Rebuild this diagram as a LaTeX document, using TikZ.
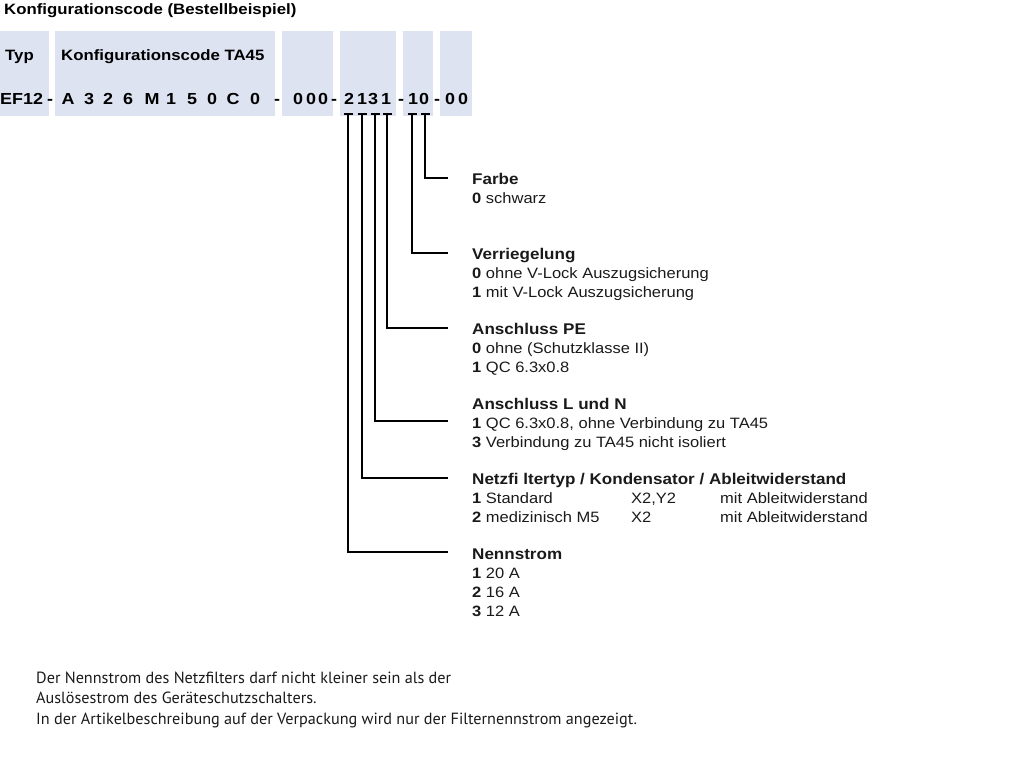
\documentclass[tikz,border=0pt]{standalone}
\usepackage{fontspec}
\setmainfont{Liberation Sans}
\newfontfamily\widefont{Liberation Sans}[FakeStretch=1.1]
\newfontfamily\widerfont{Liberation Sans}[FakeStretch=1.12]
\newfontfamily\notefont{PT Sans}
\definecolor{boxblue}{HTML}{DEE3F2}
\definecolor{ink}{HTML}{1A1A1A}
\begin{document}
\begin{tikzpicture}[x=1pt,y=-1pt,
  codebox/.style={fill=boxblue,draw=none},
  codechar/.style={anchor=base,inner sep=0pt,font=\widerfont\fontsize{16}{19}\selectfont\bfseries},
  hdr/.style={anchor=base west,inner sep=0pt,font=\widerfont\fontsize{15}{18}\selectfont\bfseries},
  ttl/.style={anchor=base west,inner sep=0pt,font=\widefont\fontsize{15.5}{19}\selectfont\bfseries,text=ink},
  itm/.style={anchor=base west,inner sep=0pt,font=\widefont\fontsize{15}{19}\selectfont,text=ink},
  note/.style={anchor=base west,inner sep=0pt,font=\notefont\fontsize{16.2}{20}\selectfont,text=ink},
  conn/.style={line width=1.1pt,draw=black},
  tick/.style={line width=1.1pt,draw=black}
]
\useasboundingbox (0,0) rectangle (1031,768);
% boxes
\fill[codebox] (0,31) rectangle (49,116);
\fill[codebox] (55,31) rectangle (275,116);
\fill[codebox] (282,31) rectangle (333,116);
\fill[codebox] (340,31) rectangle (396,116);
\fill[codebox] (403,31) rectangle (433,116);
\fill[codebox] (440,31) rectangle (472,116);
% headings
\node[hdr] (title) at (4,15) {Konfigurationscode (Bestellbeispiel)};
\node[hdr] (typ) at (5,60) {Typ};
\node[hdr] (kc) at (61,60) {Konfigurationscode TA45};
% code row
\node[codechar,anchor=base west] (ef) at (0,104) {EF12};
\foreach \c/\x/\n in {-/50/d1,A/68/a,3/89/b,2/108/c,6/128/e,M/152/f,1/171/g,5/192/h,0/212/i,C/233/j,0/255/k,-/277/d2,0/298/z1,0/311/z2,0/323/z3,-/334/d3,2/349/c1,1/362/c2,3/373/c3,1/386/c4,-/401/d4,1/413/c5,0/424/c6,-/437/d5,0/450/z4,0/463/z5}
  \node[codechar] (\n) at (\x,104) {\c};
% tick tops
\coordinate (tN) at (348,114);
\coordinate (tK) at (362,114);
\coordinate (tL) at (375,114);
\coordinate (tP) at (387,114);
\coordinate (tV) at (412,114);
\coordinate (tF) at (425,114);
\foreach \t in {tN,tK,tL,tP,tV,tF}
  \draw[tick] ([xshift=-4.5pt]\t) -- ([xshift=4.5pt]\t);
% connector ends
\coordinate (eF) at (448,178);
\coordinate (eV) at (448,253);
\coordinate (eP) at (448,328);
\coordinate (eL) at (448,421);
\coordinate (eK) at (448,478);
\coordinate (eN) at (448,552);
\draw[conn] (tF) |- (eF);
\draw[conn] (tV) |- (eV);
\draw[conn] (tP) |- (eP);
\draw[conn] (tL) |- (eL);
\draw[conn] (tK) |- (eK);
\draw[conn] (tN) |- (eN);
% Farbe
\node[ttl] (farbe) at (472,184) {Farbe};
\node[itm] (farbe0) at (472,203) {\textbf{0} schwarz};
% Verriegelung
\node[ttl] (verr) at (472,259) {Verriegelung};
\node[itm] (verr0) at (472,278) {\textbf{0} ohne V-Lock Auszugsicherung};
\node[itm] (verr1) at (472,297) {\textbf{1} mit V-Lock Auszugsicherung};
% Anschluss PE
\node[ttl] (pe) at (472,334) {Anschluss PE};
\node[itm] (pe0) at (472,353) {\textbf{0} ohne (Schutzklasse II)};
\node[itm] (pe1) at (472,372) {\textbf{1} QC 6.3x0.8};
% Anschluss L und N
\node[ttl] (ln) at (472,409) {Anschluss L und N};
\node[itm] (ln1) at (472,428) {\textbf{1} QC 6.3x0.8, ohne Verbindung zu TA45};
\node[itm] (ln3) at (472,447) {\textbf{3} Verbindung zu TA45 nicht isoliert};
% Netzfiltertyp
\node[ttl] (nf) at (472,484) {Netzfi ltertyp / Kondensator / Ableitwiderstand};
\node[itm] (nf1) at (472,503) {\textbf{1} Standard};
\node[itm] (nf1b) at (631,503) {X2,Y2};
\node[itm] (nf1c) at (720,503) {mit Ableitwiderstand};
\node[itm] (nf2) at (472,522) {\textbf{2} medizinisch M5};
\node[itm] (nf2b) at (631,522) {X2};
\node[itm] (nf2c) at (720,522) {mit Ableitwiderstand};
% Nennstrom
\node[ttl] (ns) at (472,559) {Nennstrom};
\node[itm] (ns1) at (472,578) {\textbf{1} 20 A};
\node[itm] (ns2) at (472,597) {\textbf{2} 16 A};
\node[itm] (ns3) at (472,616) {\textbf{3} 12 A};
% note
\node[note] (n1) at (36,683) {Der Nennstrom des Netzfilters darf nicht kleiner sein als der};
\node[note] (n2) at (36,703) {Auslösestrom des Geräteschutzschalters.};
\node[note] (n3) at (36,724) {In der Artikelbeschreibung auf der Verpackung wird nur der Filternennstrom angezeigt.};
\end{tikzpicture}
\end{document}
